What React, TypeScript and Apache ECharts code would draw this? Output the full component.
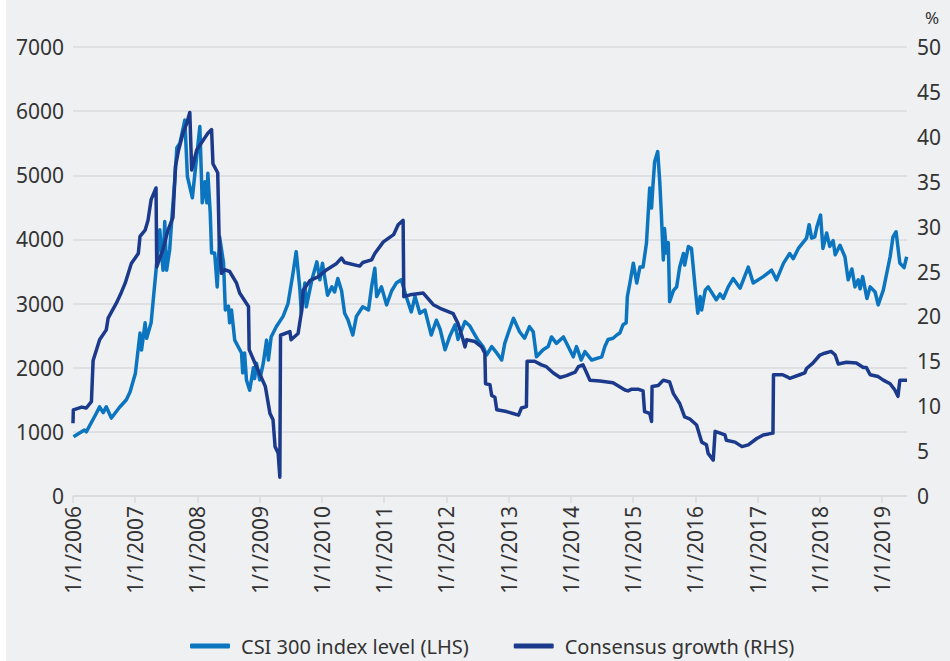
import React, { useEffect, useRef } from "react";
import * as echarts from "echarts";

const csiDates = [
  "2006-01-04","2006-03-09","2006-03-20","2006-05-18","2006-06-06","2006-06-27","2006-07-15","2006-08-14","2006-09-30","2006-11-10","2006-12-02",
  "2007-01-02","2007-01-29","2007-02-07","2007-02-28","2007-03-09","2007-04-04","2007-05-03","2007-05-25","2007-06-13","2007-06-23","2007-07-04","2007-07-22","2007-08-03","2007-08-21","2007-09-02","2007-09-20","2007-10-19","2007-11-03","2007-12-02",
  "2008-01-15","2008-01-29","2008-02-14","2008-02-25","2008-03-02","2008-03-16","2008-03-24","2008-04-11","2008-04-26","2008-05-10","2008-06-02","2008-06-13","2008-07-01","2008-07-08","2008-07-19","2008-08-07","2008-09-16","2008-09-23","2008-10-04","2008-10-15","2008-11-03","2008-11-25","2008-12-02","2008-12-13",
  "2009-01-01","2009-01-22","2009-02-10","2009-02-21","2009-03-09","2009-04-08","2009-05-18","2009-06-16","2009-07-15","2009-08-03","2009-08-25","2009-09-02","2009-09-23","2009-10-01","2009-11-03","2009-12-02","2009-12-20",
  "2010-01-04","2010-02-03","2010-02-28","2010-03-16","2010-04-04","2010-04-26","2010-05-14","2010-06-02","2010-07-01","2010-07-22","2010-08-28","2010-10-01","2010-10-19","2010-11-07","2010-11-18","2010-12-16",
  "2011-01-15","2011-02-14","2011-03-13","2011-04-11","2011-05-10","2011-06-09","2011-07-01","2011-07-29","2011-08-28","2011-10-04","2011-11-03","2011-11-25","2011-12-24",
  "2012-01-22","2012-02-21","2012-03-09","2012-04-19","2012-05-18","2012-06-06","2012-07-04","2012-08-03","2012-08-25","2012-09-23","2012-10-23","2012-11-21","2012-12-09",
  "2013-01-01","2013-01-29","2013-03-06","2013-04-04","2013-05-03","2013-05-25","2013-06-13","2013-07-22","2013-08-21","2013-09-09","2013-10-08","2013-11-18","2013-12-16",
  "2014-01-15","2014-02-03","2014-03-02","2014-03-24","2014-05-03","2014-07-01","2014-07-19","2014-08-07","2014-09-05","2014-09-27","2014-10-15","2014-11-03","2014-11-21","2014-11-28","2014-12-13",
  "2015-01-02","2015-01-22","2015-02-10","2015-02-28","2015-03-20","2015-04-08","2015-04-19","2015-04-26","2015-05-07","2015-05-25","2015-06-06","2015-06-16","2015-06-27","2015-07-04","2015-07-15","2015-07-26","2015-08-03","2015-08-25","2015-09-13","2015-10-01","2015-10-23","2015-10-30","2015-11-21","2015-12-09",
  "2016-01-01","2016-01-15","2016-01-29","2016-02-07","2016-02-28","2016-03-16","2016-05-03","2016-05-25","2016-06-13","2016-07-12","2016-08-10","2016-09-20","2016-11-07","2016-12-06",
  "2017-02-03","2017-03-24","2017-04-22","2017-06-02","2017-07-08","2017-07-29","2017-08-28","2017-10-15","2017-10-30","2017-11-14","2017-12-02","2017-12-16",
  "2018-01-05","2018-01-19","2018-02-10","2018-02-28","2018-03-20","2018-04-01","2018-04-29","2018-05-28","2018-06-16","2018-07-08","2018-07-26","2018-08-14","2018-08-25","2018-09-09","2018-10-04","2018-10-23","2018-11-21","2018-12-09",
  "2019-01-08","2019-02-17","2019-03-06","2019-03-24","2019-04-15","2019-05-10","2019-05-25"
];
const csiLevels = [
  925,1030,1000,1290,1390,1300,1390,1215,1380,1500,1625,
  1915,2540,2275,2700,2460,2700,3520,4150,3520,4280,3520,3840,4300,4930,5430,5500,5860,4980,4650,
  5760,4570,4900,4570,5030,4410,3790,3790,3260,4040,3640,2900,2960,2700,2900,2430,2230,1920,2230,1810,1650,2000,1830,2070,
  1810,2070,2430,2120,2480,2640,2800,3000,3470,3810,3210,2850,3320,2950,3370,3650,3370,
  3630,3130,3260,3180,3390,3200,2850,2750,2510,2800,2950,2900,3260,3550,3110,3260,
  2980,3200,3320,3370,3110,2870,3110,2850,2900,2510,2740,2600,2280,
  2500,2670,2440,2720,2650,2560,2430,2330,2200,2330,2230,2120,2380,
  2560,2770,2560,2460,2640,2560,2170,2280,2330,2480,2380,2480,2330,
  2170,2330,2120,2250,2120,2170,2330,2440,2460,2510,2540,2670,2700,3110,3320,
  3630,3320,3570,3570,3940,4800,4490,4800,5210,5370,4900,4360,3680,4170,3790,3950,3030,3200,3260,3570,3780,3600,3890,3860,
  3210,2850,3110,2900,3210,3260,3060,3150,3080,3260,3390,3240,3570,3320,
  3420,3520,3370,3630,3780,3700,3860,4020,4230,4020,4040,4210,
  4380,3860,4100,3890,3980,3760,3910,3730,3370,3540,3260,3370,3230,3420,3080,3260,3180,2980,
  3210,3730,4040,4120,3630,3560,3730
];

const growthDates = [
  "2006-01-01","2006-01-03","2006-02-21","2006-03-20","2006-04-19","2006-04-29","2006-06-06","2006-07-15","2006-07-26","2006-09-13","2006-10-12","2006-11-03","2006-12-09",
  "2007-01-19","2007-01-29","2007-02-28","2007-03-17","2007-04-04","2007-05-03","2007-05-07","2007-06-13","2007-07-12","2007-08-10","2007-08-25","2007-09-12","2007-10-08","2007-10-30","2007-11-17","2007-11-28","2007-12-27",
  "2008-02-03","2008-03-02","2008-03-24","2008-04-01","2008-04-29","2008-05-07","2008-05-21","2008-06-09","2008-07-08","2008-08-18","2008-09-05","2008-10-27","2008-10-31","2008-12-13",
  "2009-02-03","2009-03-02","2009-03-20","2009-04-01","2009-04-19","2009-04-29","2009-05-03","2009-06-27","2009-07-04","2009-08-14","2009-09-02","2009-09-13","2009-10-23","2009-12-09",
  "2010-01-29","2010-03-28","2010-04-26","2010-05-14","2010-08-10","2010-08-28","2010-10-19","2010-11-07","2010-12-27",
  "2011-02-25","2011-03-24","2011-04-22","2011-04-26","2011-06-02","2011-08-18","2011-10-16","2011-11-25",
  "2012-02-10","2012-03-09","2012-04-08","2012-04-19","2012-04-29","2012-06-16","2012-07-26","2012-08-14","2012-08-18","2012-09-13","2012-09-23","2012-10-12","2012-10-23","2012-12-20",
  "2013-02-28","2013-03-17","2013-04-15","2013-04-19","2013-06-02","2013-07-12","2013-08-10","2013-09-20","2013-10-30","2013-12-06",
  "2014-01-26","2014-02-14","2014-03-13","2014-04-01","2014-04-22","2014-06-20","2014-09-05","2014-11-14","2014-12-02","2014-12-24",
  "2015-01-29","2015-02-28","2015-03-09","2015-04-08","2015-04-19","2015-04-22","2015-05-28","2015-06-27","2015-08-03","2015-08-25","2015-10-01","2015-10-30","2015-11-28",
  "2016-01-08","2016-02-07","2016-03-06","2016-03-16","2016-04-15","2016-04-26","2016-06-23","2016-07-01","2016-08-21","2016-10-01","2016-11-07","2016-12-27",
  "2017-02-03","2017-04-01","2017-04-04","2017-05-28","2017-06-20","2017-07-08","2017-09-05","2017-10-04","2017-10-15","2017-11-21",
  "2018-01-01","2018-01-29","2018-03-09","2018-04-01","2018-04-19","2018-06-06","2018-08-03","2018-09-13","2018-10-01","2018-10-23","2018-12-09",
  "2019-01-08","2019-02-17","2019-03-17","2019-04-04","2019-04-15","2019-05-27"
];
const growthValues = [
  8.1,9.6,9.9,9.8,10.5,15.1,17.4,18.5,19.8,21.5,22.7,23.7,25.9,
  27.0,28.9,29.6,30.7,33.0,34.3,25.5,27.5,29.6,31.0,36.7,38.5,40.4,41.5,42.7,36.3,38.5,
  39.6,40.4,40.8,37.0,36.0,28.9,24.8,25.2,25.0,23.7,22.6,21.1,16.3,14.4,
  12.2,9.2,8.5,5.5,4.8,2.1,17.9,18.3,17.4,18.1,20.4,22.9,24.0,24.4,
  25.2,25.9,26.5,26.0,25.6,26.0,26.3,27.0,28.3,
  29.1,30.2,30.7,22.2,22.4,22.6,21.3,20.9,
  20.3,19.2,17.4,16.6,17.4,17.2,16.6,15.9,12.5,12.4,11.2,11.0,9.6,9.4,
  9.0,9.8,9.95,15.0,15.0,14.6,14.4,13.7,13.2,13.4,
  13.8,14.4,14.6,13.8,12.9,12.8,12.6,11.8,11.7,11.9,
  11.9,11.7,9.4,9.2,8.3,12.2,12.3,12.9,12.7,11.4,10.3,8.8,8.6,
  7.9,6.0,5.7,4.75,4.0,7.2,6.8,6.2,6.0,5.5,5.7,6.4,
  6.8,7.0,13.5,13.5,13.3,13.1,13.5,13.7,14.2,14.8,
  15.7,15.9,16.1,15.7,14.7,14.9,14.8,14.3,14.3,13.5,13.3,
  12.9,12.5,11.8,11.1,12.9,12.9
];

const yearTicks = [2006,2007,2008,2009,2010,2011,2012,2013,2014,2015,2016,2017,2018,2019];
const axisStart = "2006-01-01";
const axisEnd = "2019-05-27";
const leftTicks = { min: 0, max: 7000, interval: 1000 };
const rightTicks = { min: 0, max: 50, interval: 5 };
const seriesNames = ["CSI 300 index level (LHS)", "Consensus growth (RHS)"];

const LIGHT = "#0b75bf";
const NAVY = "#1b3a8b";
const TEXT = "#333333";
const GRID = "#d9dbde";
const FONT = "'Noto Sans', sans-serif";

// date string -> fractional year, so that the x axis can tick exactly on 1 January
function toYear(s: string): number {
  const [y, m, d] = s.split("-").map(Number);
  const start = Date.UTC(y, 0, 1);
  const end = Date.UTC(y + 1, 0, 1);
  return y + (Date.UTC(y, m - 1, d) - start) / (end - start);
}

export default function App() {
  const ref = useRef<HTMLDivElement>(null);
  useEffect(() => {
    if (!ref.current) return;
    const chart = echarts.init(ref.current, undefined, { renderer: "svg" });
    chart.setOption({
      animation: false,
      backgroundColor: "#eff0f2",
      textStyle: { fontFamily: FONT },
      grid: { left: 67, right: 43, top: 47, bottom: 165, containLabel: false },
      legend: {
        left: 179,
        top: 631,
        icon: "roundRect",
        itemWidth: 40,
        itemHeight: 5,
        itemGap: 45,
        textStyle: { fontSize: 20, color: TEXT, fontFamily: FONT, padding: [0, 0, 0, 6] },
        data: seriesNames,
      },
      xAxis: {
        type: "value",
        min: toYear(axisStart),
        max: toYear(axisEnd),
        axisLine: { show: true, onZero: false, lineStyle: { color: GRID, width: 1.5 } },
        axisTick: { show: true, length: 7, lineStyle: { color: GRID, width: 1.5 }, customValues: yearTicks },
        splitLine: { show: false },
        axisLabel: {
          customValues: yearTicks,
          rotate: 90,
          margin: 10,
          fontSize: 21,
          color: TEXT,
          fontFamily: FONT,
          formatter: (v: number) => "1/1/" + Math.round(v),
        },
      },
      yAxis: [
        {
          type: "value",
          min: leftTicks.min,
          max: leftTicks.max,
          interval: leftTicks.interval,
          axisLine: { show: false },
          axisTick: { show: false },
          splitLine: { show: true, lineStyle: { color: GRID, width: 1.5 } },
          axisLabel: { fontSize: 21, color: TEXT, margin: 9, fontFamily: FONT, formatter: (v: number) => String(v) },
        },
        {
          type: "value",
          min: rightTicks.min,
          max: rightTicks.max,
          interval: rightTicks.interval,
          position: "right",
          axisLine: { show: false },
          axisTick: { show: false },
          splitLine: { show: false },
          axisLabel: { fontSize: 21, color: TEXT, margin: 10, fontFamily: FONT, formatter: (v: number) => String(v) },
        },
      ],
      graphic: [
        {
          type: "text",
          left: 919,
          top: 9,
          style: { text: "%", fontSize: 17, fill: TEXT, fontFamily: FONT },
        },
      ],
      series: [
        {
          name: seriesNames[0],
          type: "line",
          yAxisIndex: 0,
          symbol: "none",
          showSymbol: false,
          lineStyle: { color: LIGHT, width: 3.5, join: "round" },
          itemStyle: { color: LIGHT },
          data: csiDates.map((d, i) => [toYear(d), csiLevels[i]]),
          z: 2,
        },
        {
          name: seriesNames[1],
          type: "line",
          yAxisIndex: 1,
          symbol: "none",
          showSymbol: false,
          lineStyle: { color: NAVY, width: 3.5, join: "round" },
          itemStyle: { color: NAVY },
          data: growthDates.map((d, i) => [toYear(d), growthValues[i]]),
          z: 3,
        },
      ],
    });
    return () => chart.dispose();
  }, []);
  return (
    <div
      ref={ref}
      style={{ position: "fixed", left: 6, top: 0, width: 944, height: 661 }}
    />
  );
}
